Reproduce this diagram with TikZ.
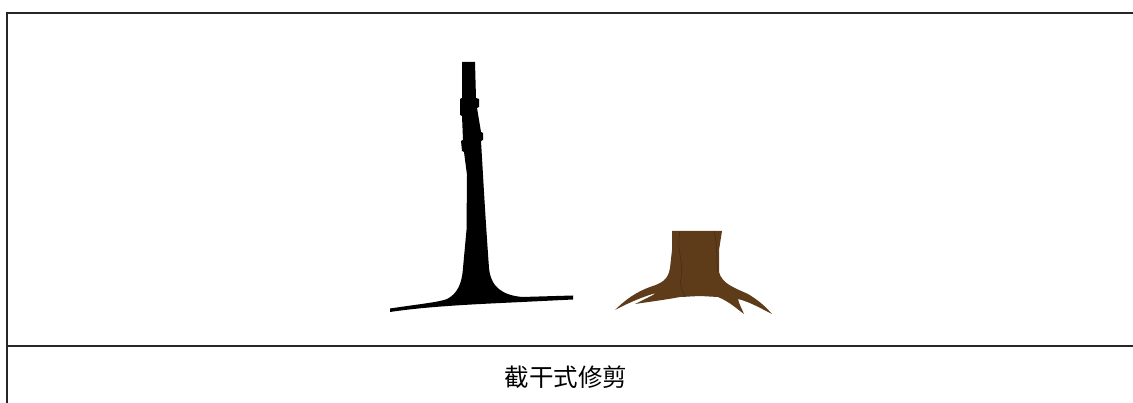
\documentclass[tikz,border=0pt]{standalone}
\usepackage{fontspec}
\newfontfamily\cjk{Noto Sans CJK SC}
\definecolor{bark}{RGB}{94,60,26}
\definecolor{barkline}{RGB}{70,44,18}
\tikzset{
  frameline/.style={line width=1.6pt, draw=black!85},
  caption/.style={font=\cjk\fontsize{24.5}{28}\selectfont, inner sep=0pt},
}
\begin{document}
\begin{tikzpicture}[x=1pt,y=-1pt]
\useasboundingbox (0,0) rectangle (1133,403);
% frame: top and left edges, divider above the caption row
\coordinate (tl) at (7,13);
\coordinate (tr) at (1133,13);
\coordinate (bl) at (7,403);
\coordinate (dl) at (7,346);
\coordinate (dr) at (1133,346);
\draw[frameline] (tr) -- (tl) -- (bl);
\draw[frameline] (dl) -- (dr);

% pollarded trunk, black silhouette with its ground line
\fill[black] (462,62) -- (475,62) -- (476,98)
  -- (479,99) -- (479,107) -- (477,108)
  -- (481,132) -- (483,133) -- (483,140) -- (481,141)
  -- (483,175) .. controls (485,210) and (487,240) .. (489,268)
  .. controls (491,288) and (503,295) .. (522,297)
  -- (573,295.5) -- (573,299.5) -- (522,302)
  .. controls (480,304) and (430,306) .. (390,312)
  -- (390,308.5)
  .. controls (420,304) and (440,302) .. (447,299)
  .. controls (457,294) and (462,284) .. (463,268)
  -- (466.5,230) -- (467,175)
  -- (464,152) -- (462,151) -- (461,141) -- (463,140)
  -- (462,116) -- (460,115) -- (460,99) -- (462,98) -- cycle;

% cut stump with spreading roots
\fill[bark] (672,231) -- (722,231) -- (719,250) -- (719,272)
  .. controls (722,284) and (735,288) .. (748,294)
  .. controls (758,300) and (765,306) .. (772,314)
  .. controls (760,308) and (750,302) .. (738,299)
  .. controls (739,304) and (742,309) .. (744,314)
  .. controls (737,309) and (730,302) .. (718,297)
  -- (700,296) -- (680,297)
  .. controls (664,300) and (648,302) .. (635,304)
  .. controls (645,299) and (652,296) .. (656,293)
  .. controls (645,296) and (630,302) .. (615,310)
  .. controls (625,300) and (636,292) .. (650,287)
  .. controls (662,283) and (668,280) .. (670,268)
  -- (672,250) -- cycle;
\draw[barkline, line width=0.5pt] (680,231) .. controls (676,250) and (684,262) .. (681,278)
  .. controls (679,288) and (684,294) .. (686,297);
\draw[barkline, line width=0.5pt] (714,231) .. controls (718,245) and (716,262) .. (718,272);

% caption
\node[caption] (cap) at (566,377) {截干式修剪};
\end{tikzpicture}
\end{document}
